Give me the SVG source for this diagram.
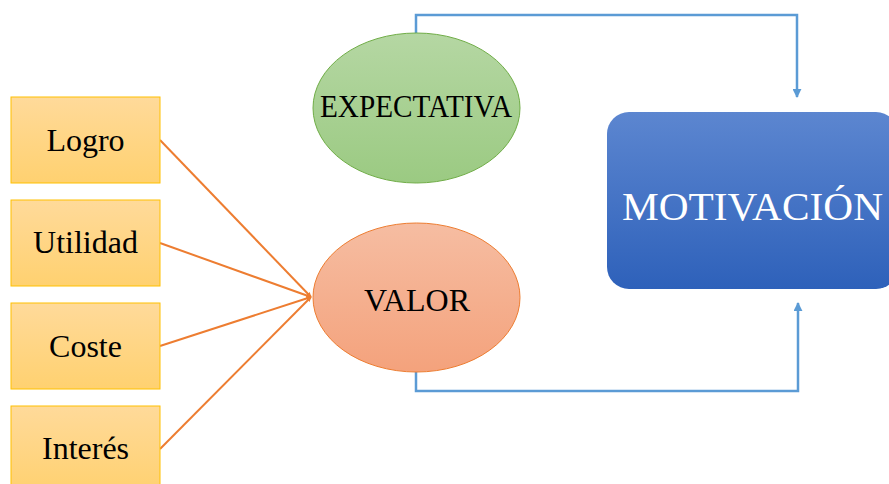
<svg xmlns="http://www.w3.org/2000/svg" width="889" height="484" viewBox="0 0 889 484">
<defs>
<linearGradient id="gBox" x1="0" y1="0" x2="0" y2="1"><stop offset="0" stop-color="#FFDA9A"/><stop offset="1" stop-color="#FFD170"/></linearGradient>
<linearGradient id="gGreen" x1="0" y1="0" x2="0" y2="1"><stop offset="0" stop-color="#B5D7A3"/><stop offset="1" stop-color="#9BCA82"/></linearGradient>
<linearGradient id="gOrange" x1="0" y1="0" x2="0" y2="1"><stop offset="0" stop-color="#F6BDA2"/><stop offset="1" stop-color="#F4A27C"/></linearGradient>
<linearGradient id="gBlue" x1="0" y1="0" x2="0" y2="1"><stop offset="0" stop-color="#5C86D0"/><stop offset="1" stop-color="#2E61BA"/></linearGradient>
<marker id="arrO" viewBox="0 0 10 10" refX="9" refY="5" markerWidth="5" markerHeight="5" orient="auto" markerUnits="userSpaceOnUse"><path d="M0,0 L10,5 L0,10 Z" fill="#ED7D31"/></marker>
<marker id="arrB" viewBox="0 0 10 10" refX="9" refY="5" markerWidth="9" markerHeight="9" orient="auto" markerUnits="userSpaceOnUse"><path d="M0,0 L10,5 L0,10 Z" fill="#5B9BD5"/></marker>
</defs>
<style>
.box{fill:url(#gBox);stroke:#FFC000;stroke-width:1}
.t{fill:#000;text-anchor:middle}
.lo{stroke:#ED7D31;stroke-width:2;fill:none;marker-end:url(#arrO)}
.lb{stroke:#5B9BD5;stroke-width:2.5;fill:none;marker-end:url(#arrB)}
</style>
<g id="connectors">
<line class="lo" x1="160" y1="140" x2="311" y2="297"/>
<line class="lo" x1="160" y1="243" x2="311" y2="297"/>
<line class="lo" x1="160" y1="346" x2="311" y2="297"/>
<line class="lo" x1="160" y1="449" x2="311" y2="297"/>
<polyline class="lb" points="416,33 416,15 797,15 797,97"/>
<polyline class="lb" points="416,372 416,391 798,391 798,303"/>
</g>
<g font-family="'Liberation Serif', 'DejaVu Serif', 'Times New Roman', serif">
<g id="logro"><rect class="box" x="11" y="97" width="149" height="86"/><text class="t" x="85.5" y="151" font-size="32">Logro</text></g>
<g id="utilidad"><rect class="box" x="11" y="200" width="149" height="86"/><text class="t" x="85.5" y="253" font-size="32">Utilidad</text></g>
<g id="coste"><rect class="box" x="11" y="303" width="149" height="86"/><text class="t" x="85.5" y="357" font-size="32">Coste</text></g>
<g id="interes"><rect class="box" x="11" y="406" width="149" height="86"/><text class="t" x="85.5" y="459" font-size="32">Interés</text></g>
<g id="expectativa"><ellipse cx="416.5" cy="108" rx="103.5" ry="75" fill="url(#gGreen)" stroke="#70AD47" stroke-width="1"/><text class="t" x="416" y="117" font-size="31" textLength="192" lengthAdjust="spacingAndGlyphs">EXPECTATIVA</text></g>
<g id="valor"><ellipse cx="416.5" cy="297.5" rx="103.5" ry="74.5" fill="url(#gOrange)" stroke="#ED7D31" stroke-width="1"/><text class="t" x="417" y="311" font-size="32">VALOR</text></g>
<g id="motivacion"><rect x="607" y="112" width="291" height="177" rx="22" fill="url(#gBlue)"/><text x="752.5" y="220" font-size="41" fill="#ffffff" text-anchor="middle" textLength="261" lengthAdjust="spacingAndGlyphs">MOTIVACIÓN</text></g>
</g>
</svg>
